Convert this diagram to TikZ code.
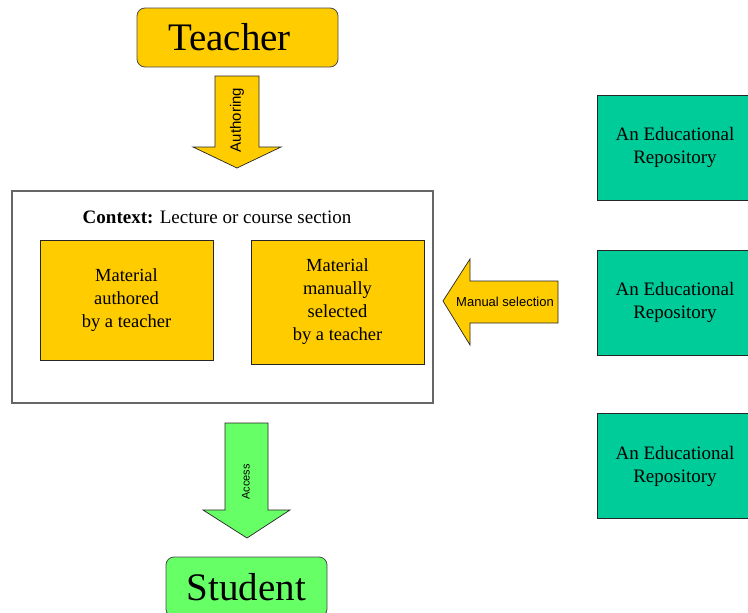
\documentclass[tikz,border=0pt]{standalone}
\usepackage{fontspec}
\setmainfont{Liberation Serif}
\newfontfamily\labelfont{Liberation Sans}
\definecolor{gold}{HTML}{FFCC00}
\definecolor{lightgreen}{HTML}{66FF66}
\definecolor{repogreen}{HTML}{00CC99}
\tikzset{
  rolebox/.style={draw=black!70, line width=0.8pt, rounded corners=8pt, font=\fontsize{39}{44}\selectfont},
  matbox/.style={draw=black!85, line width=0.8pt, fill=gold, minimum width=173pt, align=center, font=\fontsize{18.5}{23}\selectfont},
  repobox/.style={draw=black!85, line width=0.8pt, fill=repogreen, minimum width=156pt, minimum height=105pt, align=center, font=\fontsize{19}{23}\selectfont},
  blockarrow/.style={draw=black!85, line width=0.7pt, line join=miter},
  arrowtext/.style={inner sep=0pt, font=\labelfont\fontsize{13}{15}\selectfont}
}
\begin{document}
\begin{tikzpicture}[x=1pt,y=-1pt]
  \clip (0,0) rectangle (748,613);
  \fill[white] (0,0) rectangle (748,613);
  % teacher and student
  \node[rolebox, fill=gold, minimum width=201pt, minimum height=59pt] (teacher) at (237.5,37.5) {Teacher\kern16pt};
  \node[rolebox, fill=lightgreen, minimum width=161pt, minimum height=60pt] (student) at (246.5,587) {Student};
  % context
  \node[draw=black!60, line width=1.2pt, minimum width=421pt, minimum height=212pt] (context) at (222.5,297) {};
  \node[font=\fontsize{19}{22}\selectfont] (contextlabel) at (217,217) {\textbf{Context:} Lecture or course section};
  \node[matbox, minimum height=120pt] (authored) at (126.5,300) {Material\\authored\\by a teacher};
  \node[matbox, minimum height=124pt] (selected) at (337.5,302) {Material\\manually\\selected\\by a teacher};
  % repositories
  \foreach \y/\n in {147.5/repoA, 302.5/repoB, 466/repoC}
    \node[repobox] (\n) at (675,\y) {An Educational\\Repository};
  % block arrows
  \draw[blockarrow, fill=gold] (215,76) -- (259,76) -- (259,147) -- (281,147) -- (237,168) -- (193,147) -- (215,147) -- cycle;
  \node[arrowtext, rotate=90, font=\labelfont\fontsize{15}{17}\selectfont] (authoring) at (237,120) {Authoring};
  \draw[blockarrow, fill=gold] (558,281) -- (470,281) -- (470,259) -- (443,301) -- (470,345) -- (470,323) -- (558,323) -- cycle;
  \node[arrowtext] (manualsel) at (505,302) {Manual selection};
  \draw[blockarrow, fill=lightgreen] (225,423) -- (268,423) -- (268,510) -- (290,510) -- (247,538) -- (203,510) -- (225,510) -- cycle;
  \node[arrowtext, rotate=90, font=\labelfont\fontsize{11}{13}\selectfont] (access) at (246,482) {Access};
\end{tikzpicture}
\end{document}
